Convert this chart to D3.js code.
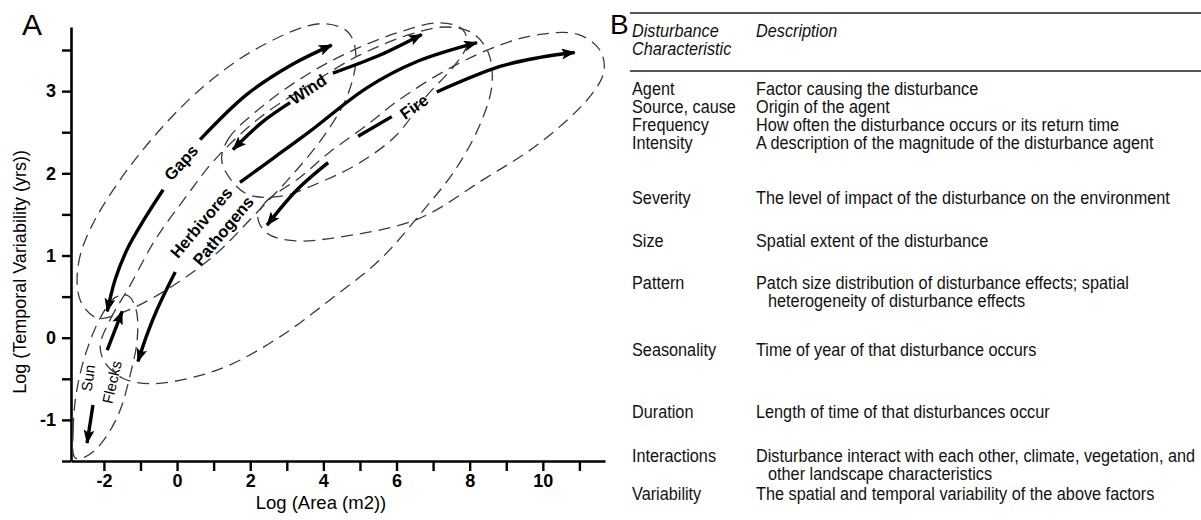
<!DOCTYPE html>
<html><head><meta charset="utf-8">
<script src="https://cdn.jsdelivr.net/npm/d3@7"></script>
<style>
html,body{margin:0;padding:0;background:#fff;}
svg{display:block;}
</style></head><body>
<svg id="chart" width="1201" height="520"></svg>
<script>
// ---------------- DATA (panel A: log10 area [m2] vs log10 temporal variability [yrs]) ----------------
const xTicks = [-2,-1,0,1,2,3,4,5,6,7,8,9,10,11];
const xTickLabels = [-2,0,2,4,6,8,10];
const yTicks = [-1.5,-1,-0.5,0,0.5,1,1.5,2,2.5,3,3.5];
const yTickLabels = [-1,0,1,2,3];

// dashed envelopes of each disturbance type (outline points, data units)
const sunFlecksRegion = [[-2.79,-1.46],[-2.84,-1.12],[-2.76,-0.69],[-2.51,-0.21],[-2.10,0.24],[-1.69,0.49],[-1.34,0.51],[-1.12,0.34],[-1.09,-0.02],[-1.28,-0.45],[-1.61,-0.94],[-2.10,-1.30],[-2.51,-1.45]];
const gapsRegion = [[-2.65,0.46],[-2.70,0.89],[-2.32,1.37],[-1.09,2.20],[0.63,3.02],[2.27,3.54],[3.91,3.82],[4.67,3.72],[4.89,3.44],[4.67,2.96],[4.04,2.47],[3.09,1.95],[2.13,1.50],[1.04,1.01],[-0.19,0.61],[-1.42,0.32],[-2.19,0.24]];
const windRegion = [[1.23,2.13],[1.39,2.41],[2.46,2.86],[3.63,3.22],[4.73,3.48],[6.09,3.72],[7.19,3.83],[7.81,3.75],[7.92,3.56],[7.60,3.32],[6.78,2.92],[6.01,2.47],[5.00,2.13],[3.91,1.89],[2.81,1.72],[1.86,1.76]];
const herbivoresRegion = [[-2.10,-0.09],[-1.83,0.22],[-1.28,0.64],[-0.60,1.19],[0.22,1.70],[1.04,2.17],[2.27,2.68],[3.63,3.08],[5.00,3.44],[6.37,3.69],[7.32,3.78],[8.06,3.71],[8.50,3.48],[8.61,3.08],[8.28,2.59],[7.60,2.04],[6.64,1.50],[5.55,0.95],[4.18,0.46],[2.81,0.01],[1.45,-0.33],[0.36,-0.49],[-0.74,-0.56],[-1.50,-0.49],[-1.99,-0.29]];
const fireRegion = [[2.21,1.46],[2.40,1.64],[3.36,1.95],[4.18,2.26],[5.14,2.57],[6.09,2.90],[7.46,3.28],[8.83,3.56],[9.92,3.69],[10.96,3.69],[11.56,3.50],[11.67,3.24],[11.28,2.93],[9.92,2.37],[8.36,1.92],[6.56,1.44],[4.37,1.22],[3.17,1.18],[2.46,1.27]];

// range arrows (head at the last point)
const gapsArrowDown = [[-0.38,1.80],[-0.87,1.46],[-1.37,1.07],[-1.69,0.71],[-1.91,0.32]];
const gapsArrowUp = [[0.63,2.41],[1.91,2.96],[3.17,3.33],[4.23,3.56]];
const windArrowDown = [[3.09,2.86],[2.32,2.62],[1.53,2.29]];
const windArrowUp = [[4.26,3.22],[5.55,3.44],[6.69,3.69]];
const herbArrowUp = [[1.72,1.89],[2.68,2.20],[3.63,2.51],[5.19,3.04],[6.56,3.36],[8.20,3.59]];
const herbArrowDown = [[-0.05,0.80],[-0.55,0.34],[-0.82,0.04],[-1.07,-0.29]];
const fireArrowUp = [[7.10,2.99],[8.83,3.30],[9.92,3.41],[10.87,3.47]];
const fireDash = [[4.95,2.45],[5.87,2.69]];
const fireArrowDown = [[4.13,2.13],[3.28,1.80],[2.46,1.37]];
const sunArrowUp = [[-1.91,-0.15],[-1.50,0.32]];
const sunArrowDown = [[-2.30,-0.82],[-2.46,-1.28]];

const regionNames = ["Gaps","Wind","Herbivores","Pathogens","Fire","Sun","Flecks"];
const regionLabelAt = [[0.11,2.13],[3.58,3.02],[0.66,1.40],[1.26,1.30],[6.48,2.81],[-2.43,-0.49],[-1.78,-0.54]];

// ---------------- DATA (panel B table) ----------------
const tableHeader = [["Disturbance","Characteristic"],["Description"]];
const characteristics = ["Agent","Source, cause","Frequency","Intensity","Severity","Size","Pattern","Seasonality","Duration","Interactions","Variability"];
const descriptions = [
  ["Factor causing the disturbance"],
  ["Origin of the agent"],
  ["How often the disturbance occurs or its return time"],
  ["A description of the magnitude of the disturbance agent"],
  ["The level of impact of the disturbance on the environment"],
  ["Spatial extent of the disturbance"],
  ["Patch size distribution of disturbance effects; spatial","heterogeneity of disturbance effects"],
  ["Time of year of that disturbance occurs"],
  ["Length of time of that disturbances occur"],
  ["Disturbance interact with each other, climate, vegetation, and","other landscape characteristics"],
  ["The spatial and temporal variability of the above factors"]
];

// ---------------- DRAWING ----------------
const svg = d3.select("#chart");
svg.append("rect").attr("width",1201).attr("height",520).attr("fill","#fff");
const FONT = "'Liberation Sans', Arial, Helvetica, sans-serif";

const x = d3.scaleLinear().domain([-2.9, 11.7]).range([71, 605]);
const y = d3.scaleLinear().domain([-1.5, 3.78]).range([461, 27]);

// arrow marker
svg.append("defs").append("marker")
  .attr("id","ah").attr("viewBox","0 0 14 11").attr("refX",13).attr("refY",5.5)
  .attr("markerWidth",14).attr("markerHeight",11).attr("markerUnits","userSpaceOnUse")
  .attr("orient","auto")
  .append("path").attr("d","M0,0 L14,5.5 L0,11 L3,5.5 Z").attr("fill","#000");

// panel letter
svg.append("text").attr("x",22).attr("y",35).text("A")
  .style("font-family",FONT).style("font-size","30px").attr("fill","#000");

// axes
const gx = svg.append("g").attr("transform",`translate(0,${y(-1.5)})`)
  .call(d3.axisBottom(x).tickValues(xTicks).tickSize(10).tickSizeOuter(0).tickPadding(3)
    .tickFormat(d => xTickLabels.includes(d) ? String(d) : ""));
const gy = svg.append("g").attr("transform",`translate(${x(-2.9)},0)`)
  .call(d3.axisLeft(y).tickValues(yTicks).tickSize(9).tickSizeOuter(0).tickPadding(6)
    .tickFormat(d => yTickLabels.includes(d) ? String(d) : ""));
[gx,gy].forEach(g => {
  g.select(".domain").attr("stroke","#000").attr("stroke-width",2.6);
  g.selectAll(".tick line").attr("stroke","#000").attr("stroke-width",2.4);
  g.selectAll(".tick text").attr("fill","#000")
    .style("font-family",FONT).style("font-size","18px").style("font-weight","bold");
});

svg.append("text").attr("x",321).attr("y",509).attr("text-anchor","middle")
  .text("Log (Area (m2))").style("font-family",FONT).style("font-size","18.5px").attr("fill","#000");
svg.append("text").attr("transform","translate(26,272) rotate(-90)").attr("text-anchor","middle")
  .text("Log (Temporal Variability (yrs))").style("font-family",FONT).style("font-size","18px").attr("fill","#000");

// dashed envelopes
const closedLine = d3.line().x(d=>x(d[0])).y(d=>y(d[1])).curve(d3.curveCatmullRomClosed.alpha(0.5));
svg.append("g").selectAll("path")
  .data([sunFlecksRegion, gapsRegion, windRegion, herbivoresRegion, fireRegion])
  .join("path").attr("d",closedLine)
  .attr("fill","none").attr("stroke","#3a3a3a").attr("stroke-width",1.3).attr("stroke-dasharray","12,7");

// arrows
const openLine = d3.line().x(d=>x(d[0])).y(d=>y(d[1])).curve(d3.curveCatmullRom.alpha(0.5));
const headed = [gapsArrowDown,gapsArrowUp,windArrowDown,windArrowUp,herbArrowUp,herbArrowDown,fireArrowUp,fireArrowDown,sunArrowUp,sunArrowDown];
svg.append("g").selectAll("path").data(headed).join("path").attr("d",openLine)
  .attr("fill","none").attr("stroke","#000").attr("stroke-width",3.4).attr("marker-end","url(#ah)");
svg.append("path").attr("d",openLine(fireDash)).attr("fill","none").attr("stroke","#000").attr("stroke-width",3.4);

// labels
const labelAngle = [-48,-33,-50,-50,-35,-82,-77];
const labelBold = [true,true,true,true,true,false,false];
svg.append("g").selectAll("text").data(regionNames).join("text")
  .attr("transform",(d,i)=>`translate(${x(regionLabelAt[i][0])},${y(regionLabelAt[i][1])}) rotate(${labelAngle[i]})`)
  .attr("text-anchor","middle").attr("dy","0.35em")
  .style("font-family",FONT).style("font-size",(d,i)=>labelBold[i]?"16.5px":"15px")
  .style("font-weight",(d,i)=>labelBold[i]?"bold":"normal")
  .attr("fill","#000").text(d=>d);

// ---------------- PANEL B ----------------
svg.append("text").attr("x",610).attr("y",34).text("B")
  .style("font-family",FONT).style("font-size","28px").attr("fill","#000");
[13,71].forEach(yy => svg.append("line").attr("x1",630).attr("x2",1201).attr("y1",yy).attr("y2",yy)
  .attr("stroke","#555").attr("stroke-width",1.8));

const col1 = 632, col2 = 756, indent = 12;
// condensed look: slightly narrowed glyphs
const cell = (tx, ty, t, italic) => svg.append("text")
  .attr("transform",`translate(${tx},${ty}) scale(0.93,1)`)
  .style("font-family",FONT).style("font-size","17.5px").style("font-style",italic?"italic":"normal")
  .attr("fill","#111").text(t);

tableHeader[0].forEach((t,i)=> cell(col1, 37+i*18, t, true));
tableHeader[1].forEach((t,i)=> cell(col2, 37+i*18, t, true));

const rowBaseline = [95,113,131,149,204,247,289,356,418,462,500];
characteristics.forEach((c,i)=>{
  cell(col1, rowBaseline[i], c, false);
  descriptions[i].forEach((line,j)=> cell(col2 + (j>0?indent:0), rowBaseline[i]+j*18, line, false));
});
</script>
</body></html>
